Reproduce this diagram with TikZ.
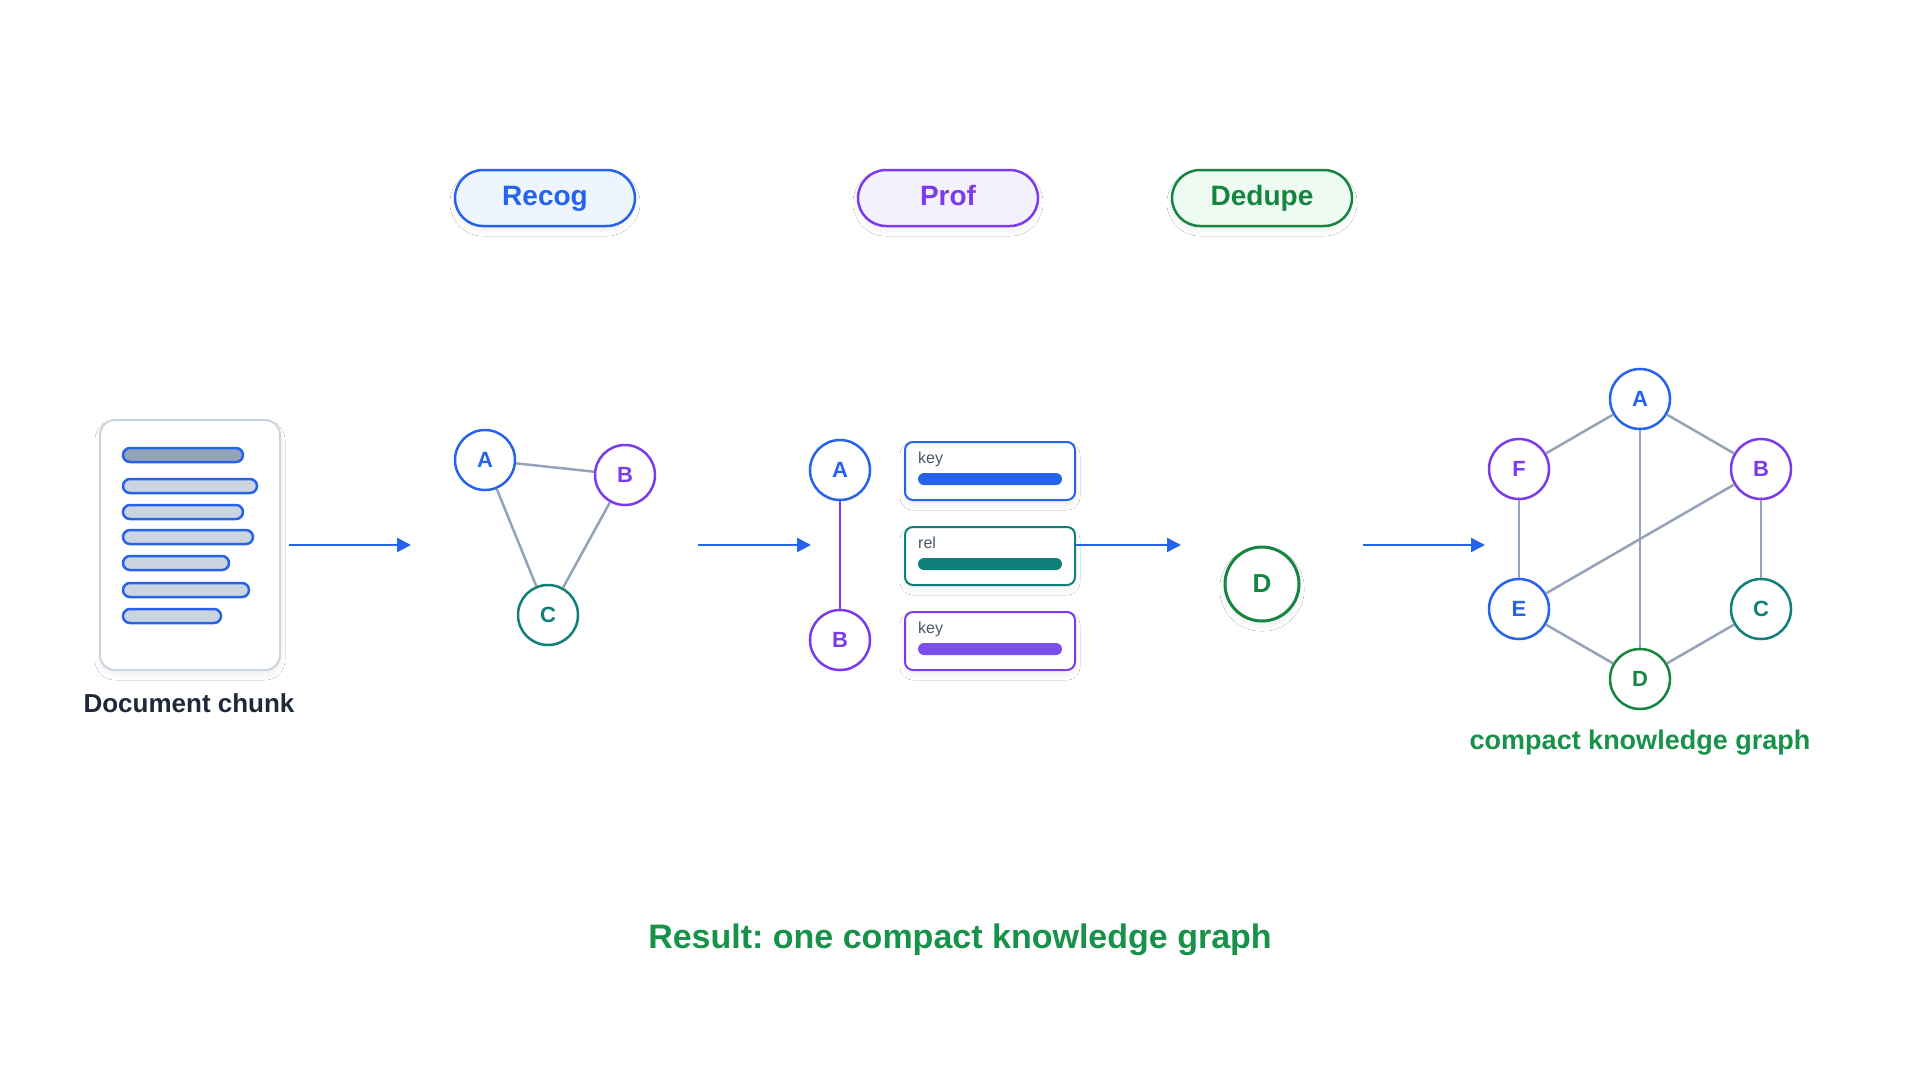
\documentclass[tikz,border=0pt]{standalone}
\usepackage{fontspec}
\setmainfont{Liberation Sans}
\usetikzlibrary{arrows.meta,shadows.blur,calc}
\definecolor{cblue}{HTML}{2563EB}
\definecolor{cpurple}{HTML}{7C3AED}
\definecolor{cteal}{HTML}{0F7F7A}
\definecolor{cgreen}{HTML}{16853F}
\definecolor{tgreen}{HTML}{16924A}
\definecolor{egray}{HTML}{94A3B8}
\definecolor{lgray}{HTML}{CBD5E1}
\definecolor{dtext}{HTML}{1E293B}
\definecolor{ktext}{HTML}{475569}
\definecolor{fblue}{HTML}{EEF5FF}
\definecolor{fpurple}{HTML}{F4F1FF}
\definecolor{fgreen}{HTML}{EDFBF2}
\definecolor{bpurple}{HTML}{7C4DEF}
\frenchspacing
\begin{document}
\begin{tikzpicture}[x=1pt,y=-1pt,
  soft/.style={blur shadow={shadow xshift=0pt,shadow yshift=-5pt,shadow blur radius=5pt,shadow blur steps=20,shadow opacity=6,shadow blur extra rounding=2pt}},
  pill/.style={rectangle,rounded corners=28pt,minimum width=180pt,minimum height=56pt,line width=2.5pt,soft,text height=20pt,text depth=5pt,font=\fontsize{28}{32}\selectfont\bfseries},
  nd/.style={circle,minimum size=60pt,inner sep=0pt,line width=2.5pt,fill=white,font=\fontsize{22}{24}\selectfont\bfseries},
  edge/.style={draw=egray,line width=2.5pt},
  flow/.style={draw=cblue,line width=2.5pt,-{Triangle[length=14pt,width=14pt]}},
  docline/.style={draw=cblue,line width=2.5pt,rounded corners=7pt},
  attrbox/.style={rectangle,rounded corners=8pt,minimum width=170pt,minimum height=58pt,line width=2pt,fill=white,soft},
  attrbar/.style={rounded corners=6pt},
  keylbl/.style={anchor=base west,text=ktext,font=\fontsize{16}{18}\selectfont,inner sep=0pt}
]
\useasboundingbox[fill=white] (0,0) rectangle (1920,1080);

% Document chunk
\node[rectangle,rounded corners=15pt,draw=lgray,line width=2pt,fill=white,minimum width=180pt,minimum height=250pt,soft] (doc) at (190,545) {};
\draw[docline,fill=egray] (123,448) rectangle (243,462);
\draw[docline,fill=lgray] (123,479) rectangle (257,493);
\draw[docline,fill=lgray] (123,505) rectangle (243,519);
\draw[docline,fill=lgray] (123,530) rectangle (253,544);
\draw[docline,fill=lgray] (123,556) rectangle (229,570);
\draw[docline,fill=lgray] (123,583) rectangle (249,597);
\draw[docline,fill=lgray] (123,609) rectangle (221,623);
\node[text=dtext,font=\fontsize{26}{30}\selectfont\bfseries] (doclbl) at (189,703) {Document chunk};

% Stage pills
\node[pill,draw=cblue,fill=fblue,text=cblue] (recog) at (545,198) {Recog};
\node[pill,draw=cpurple,fill=fpurple,text=cpurple] (prof) at (948,198) {Prof};
\node[pill,draw=cgreen,fill=fgreen,text=cgreen] (dedupe) at (1262,198) {Dedupe};

% Recog graph
\node[nd,draw=cblue,text=cblue] (ra) at (485,460) {A};
\node[nd,draw=cpurple,text=cpurple] (rb) at (625,475) {B};
\node[nd,draw=cteal,text=cteal] (rc) at (548,615) {C};
\draw[edge] (ra) -- (rb);
\draw[edge] (ra) -- (rc);
\draw[edge] (rb) -- (rc);

% Prof graph
\node[nd,draw=cblue,text=cblue] (pa) at (840,470) {A};
\node[nd,draw=cpurple,text=cpurple] (pb) at (840,640) {B};
\draw[draw=cpurple,line width=2.5pt] (pa) -- (pb);

\node[attrbox,draw=cblue] (k1) at (990,471) {};
\node[attrbox,draw=cteal] (rl) at (990,556) {};
\node[attrbox,draw=cpurple] (k2) at (990,641) {};
\node[keylbl] (k1l) at ($(k1.north west)+(14,22)$) {key};
\node[keylbl] (rll) at ($(rl.north west)+(14,22)$) {rel};
\node[keylbl] (k2l) at ($(k2.north west)+(14,22)$) {key};
\fill[attrbar,fill=cblue] ($(k1.north west)+(14,32)$) rectangle ($(k1.north east)+(-14,44)$);
\fill[attrbar,fill=cteal] ($(rl.north west)+(14,32)$) rectangle ($(rl.north east)+(-14,44)$);
\fill[attrbar,fill=bpurple] ($(k2.north west)+(14,32)$) rectangle ($(k2.north east)+(-14,44)$);

% Dedupe
\node[nd,minimum size=74pt,line width=3pt,draw=cgreen,text=cgreen,soft,font=\fontsize{26}{28}\selectfont\bfseries] (dd) at (1262,584) {D};

% Final graph
\node[nd,draw=cblue,text=cblue] (ga) at (1640,399) {A};
\node[nd,draw=cpurple,text=cpurple] (gb) at (1761,469) {B};
\node[nd,draw=cteal,text=cteal] (gc) at (1761,609) {C};
\node[nd,draw=cgreen,text=cgreen] (gd) at (1640,679) {D};
\node[nd,draw=cblue,text=cblue] (ge) at (1519,609) {E};
\node[nd,draw=cpurple,text=cpurple] (gf) at (1519,469) {F};
\draw[edge] (ga) -- (gf);
\draw[edge] (ga) -- (gb);
\draw[edge] (gf) -- (ge);
\draw[edge] (gb) -- (gc);
\draw[edge] (ge) -- (gd);
\draw[edge] (gc) -- (gd);
\draw[edge] (ga) -- (gd);
\draw[edge] (gb) -- (ge);
\node[text=tgreen,font=\fontsize{27}{30}\selectfont\bfseries] (glbl) at (1640,743) {compact knowledge graph};

% Flow arrows
\coordinate (a1s) at (289,545); \coordinate (a1e) at (411,545);
\coordinate (a2s) at (698,545); \coordinate (a2e) at (811,545);
\coordinate (a3e) at (1181,545);
\coordinate (a4s) at (1363,545); \coordinate (a4e) at (1485,545);
\draw[flow] (a1s) -- (a1e);
\draw[flow] (a2s) -- (a2e);
\draw[flow] (rl.east |- a3e) -- (a3e);
\draw[flow] (a4s) -- (a4e);

% Result
\node[text=tgreen,font=\fontsize{34}{38}\selectfont\bfseries] (result) at (960,940) {Result: one compact knowledge graph};
\end{tikzpicture}
\end{document}
